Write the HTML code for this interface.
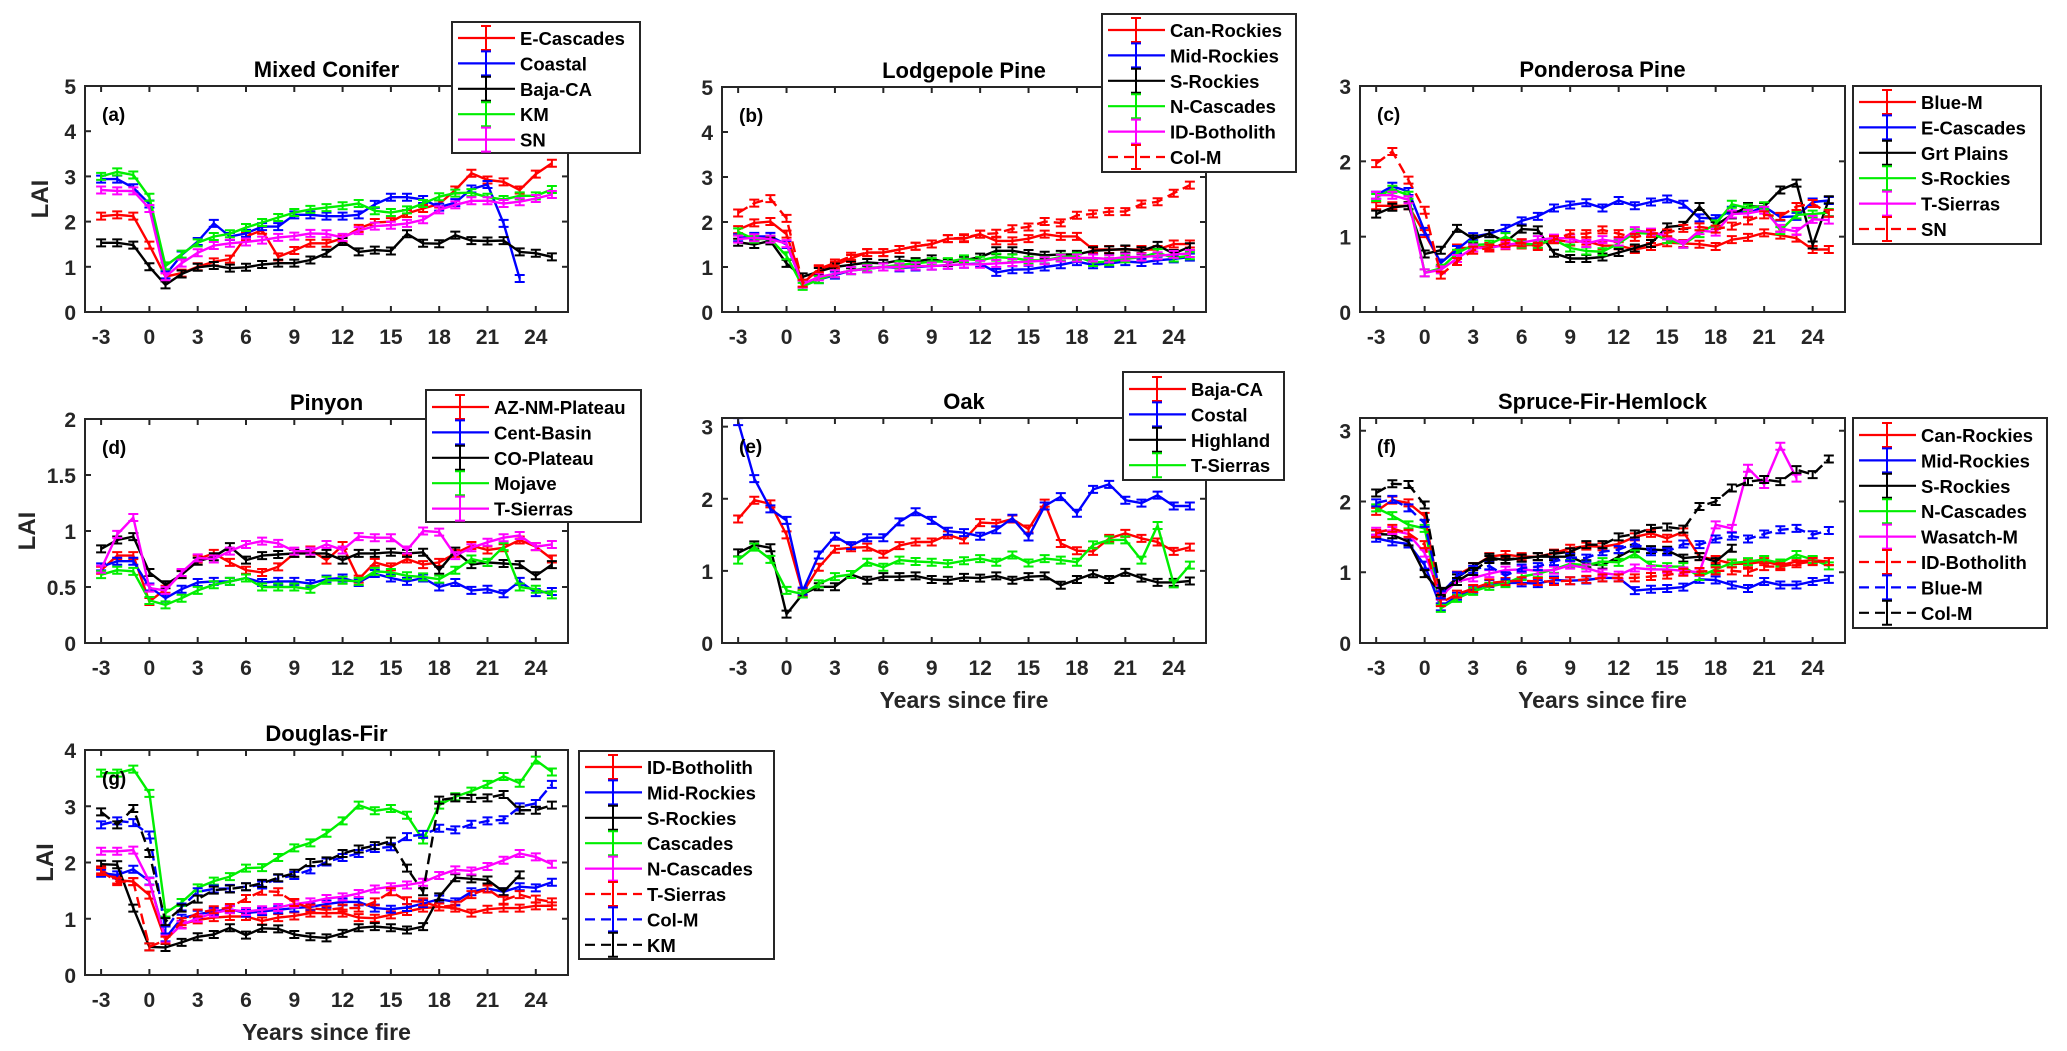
<!DOCTYPE html>
<html><head><meta charset="utf-8">
<style>
html,body{margin:0;padding:0;background:#fff;}
svg{display:block;font-family:"Liberation Sans",Arial,sans-serif;font-weight:bold;}
</style></head>
<body>
<svg id="fig" width="2067" height="1051" viewBox="0 0 2067 1051" xmlns="http://www.w3.org/2000/svg"></svg>
<script>
// ---------- data ----------
const years = [-3,-2,-1,0,1,2,3,4,5,6,7,8,9,10,11,12,13,14,15,16,17,18,19,20,21,22,23,24,25];
const xTickVals = [-3,0,3,6,9,12,15,18,21,24];

// (a) Mixed Conifer
const a_ecascades = [2.12,2.15,2.12,1.48,0.78,0.86,1.0,1.11,1.17,1.67,1.81,1.22,1.36,1.52,1.52,1.63,1.85,1.98,2.0,2.18,2.29,2.39,2.7,3.07,2.92,2.88,2.7,3.05,3.29];
const a_coastal = [2.94,2.94,2.75,2.39,0.82,1.26,1.56,1.96,1.67,1.74,1.89,1.89,2.15,2.15,2.12,2.12,2.15,2.38,2.54,2.54,2.49,2.32,2.42,2.72,2.82,1.96,0.74];
const a_bajaca = [1.53,1.53,1.48,1.0,0.6,0.84,0.99,1.03,0.97,0.99,1.05,1.08,1.08,1.15,1.3,1.56,1.33,1.37,1.35,1.73,1.52,1.51,1.7,1.58,1.57,1.58,1.33,1.3,1.22];
const a_km = [3.0,3.1,3.03,2.54,1.02,1.28,1.53,1.67,1.73,1.87,1.98,2.09,2.2,2.27,2.31,2.35,2.4,2.24,2.2,2.26,2.4,2.55,2.63,2.64,2.54,2.49,2.57,2.57,2.71];
const a_sn = [2.7,2.68,2.68,2.29,0.78,1.08,1.31,1.47,1.52,1.55,1.59,1.65,1.68,1.74,1.73,1.65,1.8,1.9,1.92,1.96,2.04,2.26,2.37,2.46,2.46,2.4,2.44,2.51,2.6];

// (b) Lodgepole Pine
const b_canrockies = [1.83,1.98,2.01,1.73,0.64,0.94,1.04,1.19,1.32,1.32,1.39,1.46,1.51,1.63,1.63,1.73,1.58,1.58,1.63,1.73,1.68,1.68,1.39,1.39,1.39,1.39,1.39,1.51,1.51];
const b_midrockies = [1.65,1.68,1.68,1.5,0.62,0.72,0.82,0.92,0.96,1.0,0.98,1.0,1.02,1.04,1.06,1.08,0.88,0.94,0.95,1.0,1.05,1.12,1.05,1.08,1.12,1.1,1.15,1.18,1.22];
const b_srockies = [1.55,1.5,1.58,1.08,0.78,0.9,1.0,1.05,1.1,1.08,1.15,1.12,1.18,1.1,1.15,1.22,1.36,1.36,1.3,1.26,1.28,1.28,1.36,1.38,1.4,1.36,1.48,1.3,1.45];
const b_ncascades = [1.78,1.62,1.62,1.25,0.57,0.72,0.85,0.92,0.98,1.0,1.05,1.08,1.12,1.12,1.18,1.15,1.22,1.2,1.15,1.15,1.22,1.24,1.1,1.12,1.18,1.22,1.32,1.2,1.25];
const b_idbotholith = [1.62,1.65,1.62,1.52,0.62,0.78,0.85,0.92,0.96,1.0,1.0,1.02,1.02,1.04,1.06,1.06,1.08,1.1,1.12,1.14,1.2,1.2,1.2,1.18,1.22,1.22,1.25,1.28,1.3];
const b_colm = [2.2,2.42,2.52,2.08,0.64,0.96,1.09,1.24,1.32,1.32,1.39,1.46,1.51,1.63,1.65,1.73,1.75,1.85,1.89,2.01,1.98,2.15,2.18,2.23,2.23,2.4,2.45,2.64,2.82];

// (c) Ponderosa Pine
const c_bluem = [1.41,1.41,1.41,1.04,0.65,0.85,0.85,0.87,0.88,0.89,0.89,0.96,0.93,0.94,0.88,0.88,0.83,0.87,0.92,0.91,0.9,0.87,0.96,0.99,1.05,1.02,0.98,0.83,0.83];
const c_ecascades = [1.55,1.67,1.6,1.07,0.65,0.83,1.0,1.04,1.11,1.21,1.27,1.38,1.42,1.45,1.38,1.48,1.41,1.46,1.5,1.43,1.25,1.24,1.35,1.31,1.4,1.26,1.27,1.46,1.48];
const c_grtplains = [1.3,1.39,1.41,0.77,0.82,1.11,0.97,1.04,0.93,1.1,1.09,0.78,0.71,0.71,0.73,0.79,0.85,0.91,1.13,1.15,1.4,1.15,1.29,1.4,1.4,1.62,1.71,0.89,1.49];
const c_srockies = [1.52,1.63,1.55,0.52,0.58,0.78,0.89,0.9,1.0,0.9,0.9,0.96,0.85,0.81,0.8,0.91,1.05,1.04,0.96,0.9,1.04,1.17,1.43,1.38,1.41,1.08,1.29,1.3,1.32];
const c_tsierras = [1.55,1.55,1.49,0.52,0.56,0.71,0.85,0.85,0.89,0.92,0.96,0.98,0.98,0.91,0.96,0.93,1.08,1.06,1.01,0.9,1.08,1.06,1.3,1.31,1.35,1.11,1.07,1.23,1.22];
const c_sn = [1.97,2.13,1.75,1.35,0.49,0.67,0.82,0.85,0.91,0.92,0.87,0.96,1.04,1.04,1.09,1.04,0.99,1.04,1.05,1.11,1.13,1.1,1.14,1.21,1.29,1.27,1.4,1.44,1.31];

// (d) Pinyon
const d_aznm = [0.65,0.78,0.78,0.37,0.48,0.62,0.75,0.8,0.72,0.65,0.63,0.68,0.8,0.83,0.74,0.87,0.57,0.72,0.68,0.75,0.7,0.72,0.8,0.87,0.83,0.85,0.92,0.86,0.75];
const d_centbasin = [0.68,0.73,0.73,0.5,0.4,0.48,0.54,0.55,0.55,0.58,0.54,0.55,0.55,0.53,0.57,0.58,0.54,0.62,0.58,0.55,0.58,0.5,0.54,0.47,0.48,0.44,0.55,0.45,0.46];
const d_coplateau = [0.84,0.92,0.95,0.63,0.52,0.61,0.73,0.77,0.86,0.74,0.78,0.79,0.8,0.8,0.8,0.74,0.8,0.8,0.81,0.8,0.81,0.65,0.82,0.7,0.72,0.71,0.7,0.6,0.7];
const d_mojave = [0.61,0.65,0.64,0.38,0.34,0.4,0.47,0.52,0.55,0.58,0.5,0.5,0.5,0.48,0.56,0.56,0.55,0.64,0.63,0.6,0.59,0.57,0.65,0.75,0.72,0.86,0.5,0.48,0.43];
const d_tsierras = [0.66,0.97,1.12,0.49,0.47,0.63,0.76,0.75,0.82,0.88,0.91,0.89,0.82,0.82,0.88,0.83,0.95,0.94,0.94,0.83,1.0,0.99,0.78,0.85,0.9,0.94,0.96,0.86,0.88];

// (e) Oak
const e_bajaca = [1.72,1.98,1.93,1.5,0.7,1.05,1.3,1.32,1.33,1.23,1.35,1.4,1.4,1.5,1.43,1.67,1.66,1.72,1.58,1.94,1.38,1.28,1.27,1.45,1.52,1.45,1.4,1.27,1.33];
const e_costal = [3.07,2.28,1.86,1.7,0.72,1.22,1.48,1.35,1.46,1.46,1.68,1.82,1.7,1.55,1.53,1.48,1.57,1.73,1.47,1.9,2.03,1.8,2.13,2.2,1.98,1.94,2.05,1.9,1.9];
const e_highland = [1.25,1.36,1.32,0.4,0.68,0.78,0.78,0.95,0.87,0.92,0.92,0.93,0.88,0.87,0.91,0.9,0.93,0.87,0.92,0.93,0.8,0.88,0.96,0.88,0.98,0.9,0.84,0.84,0.86];
const e_tsierras = [1.15,1.33,1.16,0.73,0.68,0.82,0.92,0.95,1.12,1.05,1.15,1.13,1.12,1.1,1.14,1.17,1.12,1.22,1.11,1.17,1.15,1.12,1.36,1.43,1.43,1.15,1.63,0.82,1.08];

// (f) Spruce-Fir-Hemlock
const f_canrockies = [1.86,2.02,1.98,1.79,0.61,0.96,1.08,1.22,1.25,1.22,1.22,1.27,1.34,1.37,1.36,1.4,1.5,1.55,1.48,1.57,1.22,1.18,1.12,1.12,1.15,1.1,1.15,1.17,1.15];
const f_midrockies = [1.48,1.43,1.4,1.1,0.51,0.66,0.76,0.84,0.85,0.85,0.84,0.89,0.88,0.89,0.92,0.92,0.74,0.76,0.77,0.79,0.9,0.89,0.82,0.77,0.87,0.82,0.82,0.87,0.9];
const f_srockies = [1.54,1.53,1.43,0.98,0.71,0.92,1.08,1.21,1.17,1.2,1.22,1.22,1.22,1.12,1.1,1.22,1.34,1.32,1.31,1.2,1.22,1.15,1.34];
const f_ncascades = [1.91,1.8,1.67,1.62,0.49,0.63,0.73,0.8,0.84,0.94,0.98,1.04,1.12,1.1,1.15,1.14,1.26,1.1,1.08,1.08,0.94,1.04,1.13,1.15,1.18,1.13,1.25,1.18,1.09];
const f_wasatchm = [1.58,1.59,1.54,1.27,0.66,0.87,0.92,0.98,1.03,1.04,1.02,1.03,1.1,1.06,0.99,0.96,1.06,1.04,1.04,1.02,1.0,1.67,1.62,2.47,2.24,2.78,2.33];
const f_idbotholith = [1.55,1.62,1.55,1.39,0.57,0.69,0.77,0.85,0.87,0.88,0.87,0.87,0.88,0.9,0.92,0.92,0.92,0.94,0.96,1.0,1.01,1.02,1.02,1.0,1.08,1.08,1.12,1.15,1.15];
const f_bluem = [1.98,2.03,1.91,1.69,0.68,0.95,1.04,1.09,0.95,1.06,1.08,1.15,1.21,1.2,1.29,1.32,1.41,1.29,1.29,1.4,1.39,1.47,1.51,1.47,1.54,1.6,1.62,1.53,1.59];
const f_colm = [2.12,2.25,2.24,1.95,0.73,0.87,1.01,1.18,1.18,1.2,1.22,1.26,1.29,1.39,1.39,1.5,1.54,1.62,1.64,1.61,1.93,2.0,2.19,2.28,2.31,2.28,2.45,2.38,2.6];

// (g) Douglas-Fir
const g_idbotholith = [1.87,1.69,1.66,1.42,0.62,0.9,0.98,1.02,1.04,1.04,0.96,1.02,1.05,1.1,1.1,1.1,1.02,1.01,1.07,1.13,1.19,1.21,1.19,1.1,1.17,1.19,1.19,1.23,1.23];
const g_midrockies = [1.81,1.78,1.88,1.67,0.66,1.01,1.08,1.13,1.17,1.1,1.13,1.16,1.19,1.21,1.26,1.3,1.3,1.19,1.17,1.2,1.27,1.35,1.3,1.48,1.54,1.48,1.57,1.55,1.65];
const g_srockies = [1.97,1.96,1.19,0.5,0.49,0.58,0.68,0.72,0.84,0.71,0.83,0.82,0.72,0.68,0.66,0.74,0.84,0.86,0.84,0.8,0.86,1.39,1.73,1.71,1.69,1.48,1.78];
const g_cascades = [3.59,3.59,3.66,3.23,1.1,1.29,1.55,1.67,1.75,1.9,1.91,2.09,2.26,2.35,2.52,2.74,3.02,2.92,2.96,2.84,2.4,3.02,3.17,3.27,3.39,3.53,3.41,3.82,3.61];
const g_ncascades = [2.2,2.2,2.22,1.66,0.64,0.89,1.01,1.1,1.16,1.13,1.16,1.2,1.26,1.3,1.36,1.39,1.45,1.53,1.57,1.6,1.65,1.77,1.87,1.85,1.93,2.04,2.16,2.1,1.97];
const g_tsierras = [1.84,1.66,1.66,0.5,0.62,0.95,1.1,1.16,1.2,1.36,1.49,1.48,1.29,1.19,1.16,1.19,1.19,1.3,1.48,1.32,1.3,1.21,1.24,1.43,1.53,1.33,1.43,1.35,1.3];
const g_colm = [2.67,2.74,2.71,2.49,0.8,1.21,1.48,1.53,1.54,1.57,1.6,1.72,1.77,1.87,2.01,2.09,2.16,2.25,2.28,2.46,2.5,2.61,2.58,2.68,2.74,2.76,2.99,3.05,3.39];
const g_km = [2.9,2.67,2.96,2.16,0.95,1.19,1.35,1.51,1.53,1.57,1.63,1.73,1.81,2.0,2.03,2.16,2.24,2.3,2.38,1.9,1.48,3.11,3.15,3.14,3.15,3.21,2.93,2.93,3.02];

// ---------- drawing ----------
const NS = "http://www.w3.org/2000/svg";
const svg = document.getElementById("fig");
const AX = "#262626";
const RED="#ff0000", BLUE="#0000ff", BLK="#000000", GRN="#00ee00", MAG="#ff00ff";

function mk(tag, attrs, parent) {
  const e = document.createElementNS(NS, tag);
  for (const k in attrs) e.setAttribute(k, attrs[k]);
  (parent || svg).appendChild(e);
  return e;
}

const panels = [
 {id:"a", title:"Mixed Conifer", x0:85, y0:86, w:483, h:226, ymax:5, yt:[0,1,2,3,4,5], yl:["0","1","2","3","4","5"], lai:40, xlab:false,
  leg:{x:452,y:22,w:188,h:131,r0:38},
  series:[["E-Cascades",RED,false,a_ecascades],["Coastal",BLUE,false,a_coastal],["Baja-CA",BLK,false,a_bajaca],["KM",GRN,false,a_km],["SN",MAG,false,a_sn]]},
 {id:"b", title:"Lodgepole Pine", x0:722, y0:87, w:484, h:225, ymax:5, yt:[0,1,2,3,4,5], yl:["0","1","2","3","4","5"], lai:0, xlab:false,
  leg:{x:1102,y:14,w:194,h:158,r0:30},
  series:[["Can-Rockies",RED,false,b_canrockies],["Mid-Rockies",BLUE,false,b_midrockies],["S-Rockies",BLK,false,b_srockies],["N-Cascades",GRN,false,b_ncascades],["ID-Botholith",MAG,false,b_idbotholith],["Col-M",RED,true,b_colm]]},
 {id:"c", title:"Ponderosa Pine", x0:1360, y0:86, w:485, h:226, ymax:3, yt:[0,1,2,3], yl:["0","1","2","3"], lai:0, xlab:false,
  leg:{x:1853,y:86,w:188,h:158,r0:102},
  series:[["Blue-M",RED,false,c_bluem],["E-Cascades",BLUE,false,c_ecascades],["Grt Plains",BLK,false,c_grtplains],["S-Rockies",GRN,false,c_srockies],["T-Sierras",MAG,false,c_tsierras],["SN",RED,true,c_sn]]},
 {id:"d", title:"Pinyon", x0:85, y0:419, w:483, h:224, ymax:2, yt:[0,0.5,1,1.5,2], yl:["0","0.5","1","1.5","2"], lai:27, xlab:false,
  leg:{x:426,y:390,w:215,h:132,r0:407},
  series:[["AZ-NM-Plateau",RED,false,d_aznm],["Cent-Basin",BLUE,false,d_centbasin],["CO-Plateau",BLK,false,d_coplateau],["Mojave",GRN,false,d_mojave],["T-Sierras",MAG,false,d_tsierras]]},
 {id:"e", title:"Oak", x0:722, y0:418, w:484, h:225, ymax:3.12, yt:[0,1,2,3], yl:["0","1","2","3"], lai:0, xlab:true,
  leg:{x:1123,y:372,w:161,h:108,r0:389},
  series:[["Baja-CA",RED,false,e_bajaca],["Costal",BLUE,false,e_costal],["Highland",BLK,false,e_highland],["T-Sierras",GRN,false,e_tsierras]]},
 {id:"f", title:"Spruce-Fir-Hemlock", x0:1360, y0:418, w:485, h:225, ymax:3.18, yt:[0,1,2,3], yl:["0","1","2","3"], lai:0, xlab:true,
  leg:{x:1853,y:418,w:194,h:210,r0:435},
  series:[["Can-Rockies",RED,false,f_canrockies],["Mid-Rockies",BLUE,false,f_midrockies],["S-Rockies",BLK,false,f_srockies],["N-Cascades",GRN,false,f_ncascades],["Wasatch-M",MAG,false,f_wasatchm],["ID-Botholith",RED,true,f_idbotholith],["Blue-M",BLUE,true,f_bluem],["Col-M",BLK,true,f_colm]]},
 {id:"g", title:"Douglas-Fir", x0:85, y0:750, w:483, h:225, ymax:4, yt:[0,1,2,3,4], yl:["0","1","2","3","4"], lai:45, xlab:true,
  leg:{x:579,y:751,w:195,h:208,r0:767},
  series:[["ID-Botholith",RED,false,g_idbotholith],["Mid-Rockies",BLUE,false,g_midrockies],["S-Rockies",BLK,false,g_srockies],["Cascades",GRN,false,g_cascades],["N-Cascades",MAG,false,g_ncascades],["T-Sierras",RED,true,g_tsierras],["Col-M",BLUE,true,g_colm],["KM",BLK,true,g_km]]}
];

const XMIN = -4, XMAX = 26;

panels.forEach(p => {
  const g = mk("g", {});
  
  
  const sx = v => p.x0 + (v - XMIN) / (XMAX - XMIN) * p.w;
  const sy = v => p.y0 + p.h - v / p.ymax * p.h;
  const errPx = 3.5;

  // title
  const t = mk("text", {x: p.x0 + p.w/2, y: p.y0 - 9, "text-anchor":"middle", "font-size":22, fill:"#000"}, g);
  t.textContent = p.title;
  
  

  // series
  const clipId = "clip" + p.id;
  const cp = mk("clipPath", {id: clipId}, g);
  mk("rect", {x:p.x0, y:p.y0, width:p.w, height:p.h}, cp);
  const sg = mk("g", {"clip-path":"url(#"+clipId+")"}, g);
  p.series.forEach(s => {
    const vals = s[3];
    const pts = vals.map((v,i) => sx(years[i]).toFixed(1) + "," + sy(v).toFixed(1)).join(" ");
    const line = mk("polyline", {points: pts, fill:"none", stroke:s[1], "stroke-width":2.4, "stroke-linejoin":"round", "stroke-dasharray": s[2] ? "11,6" : "none"}, sg);
    
    
    let d = "";
    vals.forEach((v,i) => {
      const X = sx(years[i]), Y = sy(v);
      d += `M${X},${Y-errPx}V${Y+errPx}M${X-5},${Y-errPx}H${X+5}M${X-5},${Y+errPx}H${X+5}`;
    });
    const eb = mk("path", {d:d, stroke:s[1], "stroke-width":2, fill:"none"}, sg);
    
    
  });

  // axes box
  const box = mk("rect", {x:p.x0, y:p.y0, width:p.w, height:p.h, fill:"none", stroke:AX, "stroke-width":2}, g);
  
  

  // x ticks
  xTickVals.forEach(v => {
    const X = sx(v);
    mk("line", {x1:X, y1:p.y0+p.h, x2:X, y2:p.y0+p.h-6, stroke:AX, "stroke-width":2}, g);
    mk("line", {x1:X, y1:p.y0, x2:X, y2:p.y0+6, stroke:AX, "stroke-width":2}, g);
    const tl = mk("text", {x:X, y:p.y0+p.h+32, "text-anchor":"middle", "font-size":21, fill:AX}, g);
    tl.textContent = String(v);
    
    
  });
  // y ticks
  p.yt.forEach((v,i) => {
    const Y = sy(v);
    mk("line", {x1:p.x0, y1:Y, x2:p.x0+6, y2:Y, stroke:AX, "stroke-width":2}, g);
    mk("line", {x1:p.x0+p.w, y1:Y, x2:p.x0+p.w-6, y2:Y, stroke:AX, "stroke-width":2}, g);
    const tl = mk("text", {x:p.x0-9, y:Y+8, "text-anchor":"end", "font-size":21, fill:AX}, g);
    tl.textContent = p.yl[i];
    
    
  });

  // panel letter
  const pl = mk("text", {x:p.x0+17, y:p.y0+35, "font-size":19, fill:"#000"}, g);
  pl.textContent = "(" + p.id + ")";
  
  

  if (p.lai) {
    const cy = p.y0 + p.h/2;
    const la = mk("text", {x:p.lai, y:cy, "text-anchor":"middle", "font-size":24, fill:AX, transform:`rotate(-90 ${p.lai} ${cy})`, dy:8}, g);
    la.textContent = "LAI";
    
    
  }
  if (p.xlab) {
    const xl = mk("text", {x:p.x0+p.w/2, y:p.y0+p.h+65, "text-anchor":"middle", "font-size":23, fill:AX}, g);
    xl.textContent = "Years since fire";
    
    
  }

  // legend
  const L = p.leg;
  const lg = mk("g", {}, g);
  
  
  mk("rect", {x:L.x, y:L.y, width:L.w, height:L.h, fill:"#fff", stroke:AX, "stroke-width":2}, lg);
  p.series.forEach((s,i) => {
    const Y = L.r0 + i*25.4;
    const eg = mk("g", {}, lg);
    
    
    mk("line", {x1:L.x+6, y1:Y, x2:L.x+63, y2:Y, stroke:s[1], "stroke-width":2.2, "stroke-dasharray": s[2] ? "10,6" : "none"}, eg);
    const cx = L.x+34;
    mk("path", {d:`M${cx},${Y-12}V${Y+12}M${cx-5},${Y-12}H${cx+5}M${cx-5},${Y+12}H${cx+5}`, stroke:s[1], "stroke-width":2, fill:"none"}, eg);
    const tx = mk("text", {x:L.x+68, y:Y+7, "font-size":18.5, fill:"#000"}, eg);
    tx.textContent = s[0];
  });
});
</script>
</body></html>
